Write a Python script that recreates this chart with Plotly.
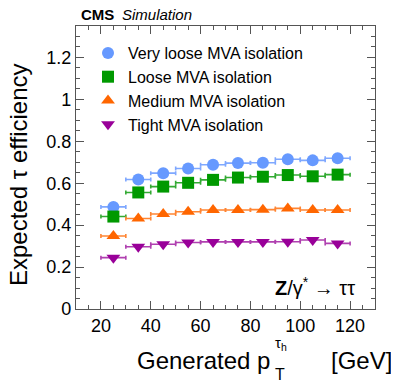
import plotly.graph_objects as go

pt_centers = [25, 35, 45, 55, 65, 75, 85, 95, 105, 115]
pt_halfwidth = [5] * 10

eff_vloose = [0.487, 0.618, 0.648, 0.670, 0.688, 0.696, 0.698, 0.714, 0.709, 0.719]
eff_loose = [0.441, 0.556, 0.584, 0.602, 0.616, 0.627, 0.631, 0.639, 0.633, 0.641]
eff_medium = [0.348, 0.432, 0.453, 0.464, 0.472, 0.472, 0.474, 0.480, 0.472, 0.472]
eff_tight = [0.245, 0.297, 0.309, 0.317, 0.320, 0.320, 0.320, 0.321, 0.329, 0.313]

series = [
    ("Very loose MVA isolation", eff_vloose, "circle", "#6699FF", "#7fa8ff"),
    ("Loose MVA isolation", eff_loose, "square", "#009900", "#33aa33"),
    ("Medium MVA isolation", eff_medium, "triangle-up", "#FF6600", "#ff8533"),
    ("Tight MVA isolation", eff_tight, "triangle-down", "#990099", "#b040b0"),
]

FONT = "Liberation Sans, Arial, Helvetica, sans-serif"

fig = go.Figure()
for i, (name, vals, sym, col, ecol) in enumerate(series):
    fig.add_trace(go.Scatter(
        x=pt_centers, y=vals, mode="markers", name=name,
        marker=dict(symbol=sym, color=col, size=12, line=dict(width=0)),
        error_x=dict(type="data", array=pt_halfwidth, color=ecol, thickness=1.6, width=2),
    ))

# page body has an 8px margin; lay out in window pixels and compensate
O = 8
W, H = 399 - O, 387 - O
L, R, T, B = 76 - O, 24, 26 - O, 78
pw, ph = W - L - R, H - T - B

def px(x):
    return (x - O - L) / pw

def py(y):
    return (H - B - (y - O)) / ph

axis_common = dict(
    showline=True, linecolor="#555555", linewidth=1.2, mirror="ticks",
    ticks="inside", ticklen=8, tickcolor="#555555", tickwidth=1,
    showgrid=False, zeroline=False,
    tickfont=dict(family=FONT, size=18, color="black"),
)

fig.update_xaxes(range=[10, 130], dtick=20, tick0=0,
                 minor=dict(ticks="inside", ticklen=4, dtick=5, tickcolor="#555555", showgrid=False),
                 **axis_common)
fig.update_yaxes(range=[0, 1.35], dtick=0.2, tick0=0,
                 tickformat="~g",
                 minor=dict(ticks="inside", ticklen=4, dtick=0.05, tickcolor="#555555", showgrid=False),
                 **axis_common)

annotations = [
    dict(text="<b>CMS</b>", x=px(79), y=py(15), xanchor="left", yanchor="middle",
         font=dict(family=FONT, size=15, color="black")),
    dict(text="<i>Simulation</i>", x=px(120), y=py(15), xanchor="left", yanchor="middle",
         font=dict(family=FONT, size=15, color="black")),
    dict(text="Expected τ efficiency", x=px(18), y=py(175), xanchor="center", yanchor="middle",
         textangle=-90, font=dict(family=FONT, size=24, color="black")),
    dict(text="Generated p", x=px(272), y=py(360), xanchor="right", yanchor="middle",
         font=dict(family=FONT, size=24, color="black")),
    dict(text="T", x=px(273), y=py(374), xanchor="left", yanchor="middle",
         font=dict(family=FONT, size=16, color="black")),
    dict(text="τ<sub>h</sub>", x=px(273), y=py(343), xanchor="left", yanchor="middle",
         font=dict(family=FONT, size=15, color="black")),
    dict(text="[GeV]", x=px(394), y=py(360), xanchor="right", yanchor="middle",
         font=dict(family=FONT, size=24, color="black")),
    dict(text="<b>Z</b>/γ<sup>*</sup> → ττ", x=px(357), y=py(286), xanchor="right", yanchor="middle",
         font=dict(family=FONT, size=20, color="black")),
]
for a in annotations:
    a.update(xref="paper", yref="paper", showarrow=False)

fig.update_layout(
    width=W, height=H, autosize=False,
    margin=dict(l=L, r=R, t=T, b=B, pad=0),
    paper_bgcolor="white", plot_bgcolor="white",
    font=dict(family=FONT, color="black"),
    showlegend=True,
    legend=dict(x=px(88), y=py(36), xanchor="left", yanchor="top",
                font=dict(family=FONT, size=16, color="black"),
                bgcolor="rgba(0,0,0,0)", borderwidth=0, tracegroupgap=0,
                itemwidth=30),
    annotations=annotations,
)

fig.write_html("out.html")
